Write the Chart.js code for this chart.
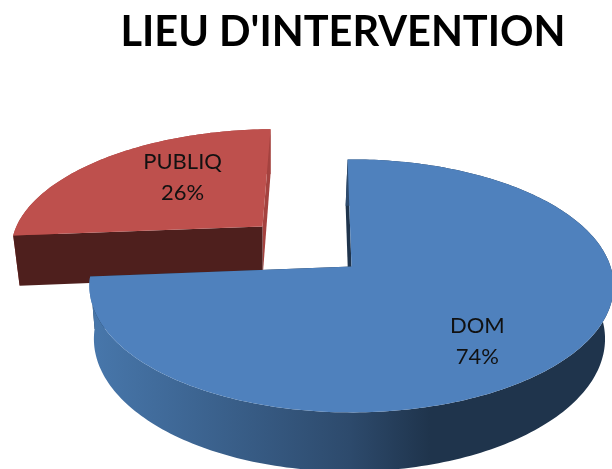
<!DOCTYPE html>
<html>
<head>
<meta charset="utf-8">
<style>html,body{margin:0;padding:0;background:#fff}#wrap{width:612px;height:469px}</style>
<script src="https://cdn.jsdelivr.net/npm/chart.js@4/dist/chart.umd.min.js"></script>
</head>
<body>
<div id="wrap"><canvas id="c" width="612" height="469"></canvas></div>
<script>
const categories = ["PUBLIQ", "DOM"];
const values = [26, 74];
const titleText = "LIEU D'INTERVENTION";

const topColors = ["#BE504D", "#4F81BD"];
const wallColors = ["#4E1F1D", "#1F344C"];
const roundWallColors = ["#A4423F", "#1F344C"];
const explode = [82, 0];
const sliceNudge = [3.5, 0];
const labelNudge = [[33.5, 0], [-19, 12]];

/* view of the tilted disc */
const VIEW = {shiftX: 8.5, rx: 259, ry: 123.5, p: 0.154, depth: 52, q: 0.12, k: 0.975, vanishX: 270};

function projectTop(arc, U, V, i) {
  const w = 1 - VIEW.p * V;
  return [arc.x + VIEW.shiftX + sliceNudge[i] + VIEW.rx * U / w, arc.y + VIEW.ry * V / w];
}
function projectBottom(arc, U, V, i) {
  const t = projectTop(arc, U, V, i);
  return [VIEW.vanishX + VIEW.k * (t[0] - VIEW.vanishX), t[1] + VIEW.depth / (1 - VIEW.q * V)];
}
function planePoint(arc, angle, f) {
  const mid = (arc.startAngle + arc.endAngle) / 2;
  const d = (arc.options.offset || 0) / arc.outerRadius;
  return [d * Math.cos(mid) + f * Math.cos(angle), d * Math.sin(mid) + f * Math.sin(angle)];
}
function poly(ctx, pts, fill) {
  ctx.beginPath();
  pts.forEach((p, i) => i ? ctx.lineTo(p[0], p[1]) : ctx.moveTo(p[0], p[1]));
  ctx.closePath();
  ctx.fillStyle = fill;
  ctx.fill();
}

class Arc3D extends Chart.ArcElement {
  static id = "arc3d";
  draw(ctx) {
    const i = this.$context ? this.$context.dataIndex : 0;
    const a = this.startAngle, b = this.endAngle;
    const apex = planePoint(this, 0, 0);
    const n = Math.ceil((b - a) / 0.02);
    const rim = [];
    for (let s = 0; s <= n; s++) rim.push(planePoint(this, a + (b - a) * s / n, 1));
    const T = q => projectTop(this, q[0], q[1], i);
    const B = q => projectBottom(this, q[0], q[1], i);
    const drawCuts = () => {
      poly(ctx, [T(apex), T(rim[n]), B(rim[n]), B(apex)], roundWallColors[i]);
      poly(ctx, [T(apex), T(rim[0]), B(rim[0]), B(apex)], wallColors[i]);
    };
    const drawRound = () => {
      let side = roundWallColors[i];
      if (i === 1) {
        side = ctx.createLinearGradient(97, 0, 430, 0);
        side.addColorStop(0, "#4776AA");
        side.addColorStop(0.76, "#2D4A6C");
        side.addColorStop(1, "#1F344C");
      }
      poly(ctx, rim.map(T).concat(rim.map(B).reverse()), side);
    };
    ctx.save();
    if (i === 0) { drawRound(); drawCuts(); } else { drawCuts(); drawRound(); }
    poly(ctx, [T(apex)].concat(rim.map(T)), this.options.backgroundColor);
    ctx.restore();
  }
}

class Pie3D extends Chart.PieController {
  static id = "pie3d";
  static defaults = {dataElementType: "arc3d"};
}
Chart.register(Arc3D, Pie3D);

const sliceLabels = {
  id: "sliceLabels",
  afterDatasetsDraw(chart) {
    const ctx = chart.ctx;
    const total = values.reduce((s, v) => s + v, 0);
    chart.getDatasetMeta(0).data.forEach((arc, i) => {
      const mid = (arc.startAngle + arc.endAngle) / 2;
      const q = planePoint(arc, mid, 0.7);
      const p = projectTop(arc, q[0], q[1], i);
      const x = p[0] + labelNudge[i][0], y = p[1] + labelNudge[i][1];
      ctx.save();
      ctx.fillStyle = "#111";
      ctx.font = "22px Lato, sans-serif";
      ctx.textAlign = "center";
      ctx.textBaseline = "middle";
      ctx.fillText(categories[i], x, y - 15.5);
      ctx.fillText(Math.round(values[i] / total * 100) + "%", x, y + 16);
      ctx.restore();
    });
  }
};

new Chart(document.getElementById("c"), {
  type: "pie3d",
  data: {
    labels: categories,
    datasets: [{data: values, backgroundColor: topColors, offset: explode, borderWidth: 0, clip: false}]
  },
  plugins: [sliceLabels],
  options: {
    responsive: false,
    animation: false,
    events: [],
    rotation: -94.6,
    layout: {padding: {left: 74, right: 0, top: 0, bottom: 0}},
    plugins: {
      legend: {display: false},
      tooltip: {enabled: false},
      title: {
        display: true,
        text: titleText,
        color: "#000",
        font: {family: "Lato, sans-serif", size: 41.5, weight: "bold"},
        padding: {top: 8, bottom: 6}
      }
    }
  }
});
</script>
</body>
</html>
